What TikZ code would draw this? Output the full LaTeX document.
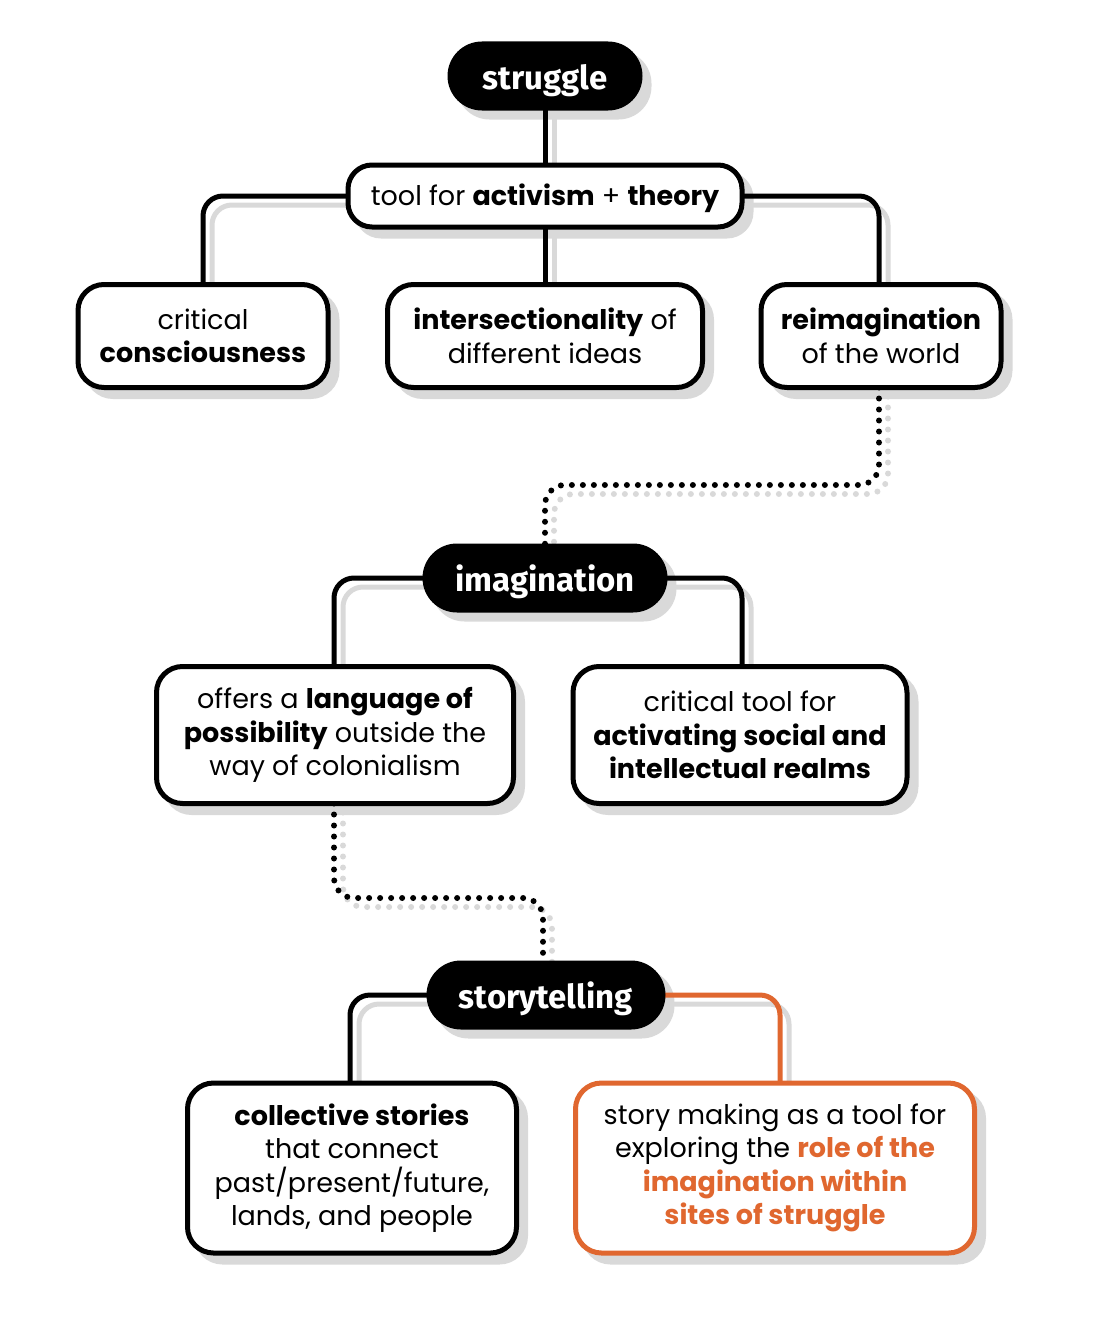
\documentclass[tikz,border=0pt]{standalone}
\usepackage{fontspec}
\setmainfont{Poppins}
\newfontfamily\headfont{Fira Sans}
\usetikzlibrary{backgrounds}
\definecolor{orng}{RGB}{224,103,47}
\definecolor{shd}{RGB}{217,217,217}
\tikzset{
  x=1pt,y=-1pt,
  every node/.style={inner sep=0pt, outer sep=0pt, align=center},
  boxnode/.style={draw=black, line width=5pt, fill=white, rounded corners=26pt,
    font=\fontsize{27}{33.5}\selectfont},
  pill/.style={draw=black, line width=2pt, fill=black, text=white, rounded corners=33.5pt,
    minimum height=67, text height=28pt, text depth=2pt,
    font=\headfont\bfseries\fontsize{33}{36}\selectfont},
  conn/.style={line width=5pt, rounded corners=20pt},
  dots/.style={line width=6pt, line cap=round, dash pattern=on 0pt off 11pt, rounded corners=20pt},
  shad/.style={draw=shd, transform canvas={shift={(9pt,-9pt)}}},
  nshad/.style={draw=shd, fill=shd, line width=5pt, transform canvas={shift={(9pt,-9pt)}}},
}
\begin{document}
\begin{tikzpicture}
\useasboundingbox (0,0) rectangle (1098,1330);
% nodes
\node[pill, minimum width=193] (strug) at (545,76) {struggle};
\node[boxnode, minimum width=394, minimum height=62, rounded corners=24pt, text height=19pt, text depth=0pt] (tool) at (545,196) {tool for \textbf{activism} + \textbf{theory}};
\node[boxnode, minimum width=250, minimum height=103] (cc) at (203,336) {critical\\\textbf{consciousness}};
\node[boxnode, minimum width=315, minimum height=103] (inter) at (545,336) {\textbf{intersectionality} of\\different ideas};
\node[boxnode, minimum width=240, minimum height=103] (reim) at (881,336) {\textbf{reimagination}\\of the world};
\node[pill, minimum width=243] (imag) at (545,578) {imagination};
\node[boxnode, minimum width=357, minimum height=137] (offers) at (335,735) {offers a \textbf{language of}\\\textbf{possibility} outside the\\way of colonialism};
\node[boxnode, minimum width=334, minimum height=137] (crit) at (740,735) {critical tool for\\\textbf{activating social and}\\\textbf{intellectual realms}};
\node[pill, minimum width=237] (story) at (546,995) {storytelling};
\node[boxnode, minimum width=329, minimum height=170] (coll) at (352,1168) {\textbf{collective stories}\\that connect\\past/present/future,\\lands, and people};
\node[boxnode, draw=orng, minimum width=399, minimum height=170] (smak) at (775,1168) {story making as a tool for\\exploring the \textcolor{orng}{\textbf{role of the}}\\\textcolor{orng}{\textbf{imagination within}}\\\textcolor{orng}{\textbf{sites of struggle}}};
\coordinate (d1) at (545,485);
\coordinate (d2) at (543,898);
\begin{scope}[on background layer]
  % shadows of nodes
  \path[nshad, rounded corners=32pt, line width=2pt] (strug.north west) rectangle (strug.south east);
  \path[nshad, rounded corners=32pt, line width=2pt] (imag.north west) rectangle (imag.south east);
  \path[nshad, rounded corners=32pt, line width=2pt] (story.north west) rectangle (story.south east);
  \path[nshad, rounded corners=24pt] (tool.north west) rectangle (tool.south east);
  \foreach \n in {cc,inter,reim,offers,crit,coll,smak}
    \path[nshad, rounded corners=26pt] (\n.north west) rectangle (\n.south east);
  % shadows of connectors
  \draw[conn, shad] (strug.south) -- (tool.north);
  \draw[conn, shad] (tool.west) -| (cc.north);
  \draw[conn, shad] (tool.east) -| ([xshift=-2pt]reim.north);
  \draw[conn, shad] (tool.south) -- (inter.north);
  \draw[dots, shad] ([xshift=-2pt]reim.south) |- (d1) -- (imag.north);
  \draw[conn, shad] (imag.west) -| ([xshift=-1pt]offers.north);
  \draw[conn, shad] (imag.east) -| ([xshift=2pt]crit.north);
  \draw[dots, shad] ([xshift=-1pt]offers.south) |- (d2) -- ([xshift=-3pt]story.north);
  \draw[conn, shad] (story.west) -| ([xshift=-2pt]coll.north);
  \draw[conn, shad] (story.east) -| ([xshift=5pt]smak.north);
  % connectors
  \draw[conn] (strug.south) -- (tool.north);
  \draw[conn] (tool.west) -| (cc.north);
  \draw[conn] (tool.east) -| ([xshift=-2pt]reim.north);
  \draw[conn] (tool.south) -- (inter.north);
  \draw[dots] ([xshift=-2pt]reim.south) |- (d1) -- (imag.north);
  \draw[conn] (imag.west) -| ([xshift=-1pt]offers.north);
  \draw[conn] (imag.east) -| ([xshift=2pt]crit.north);
  \draw[dots] ([xshift=-1pt]offers.south) |- (d2) -- ([xshift=-3pt]story.north);
  \draw[conn] (story.west) -| ([xshift=-2pt]coll.north);
  \draw[conn, draw=orng] (story.east) -| ([xshift=5pt]smak.north);
\end{scope}
\end{tikzpicture}
\end{document}
